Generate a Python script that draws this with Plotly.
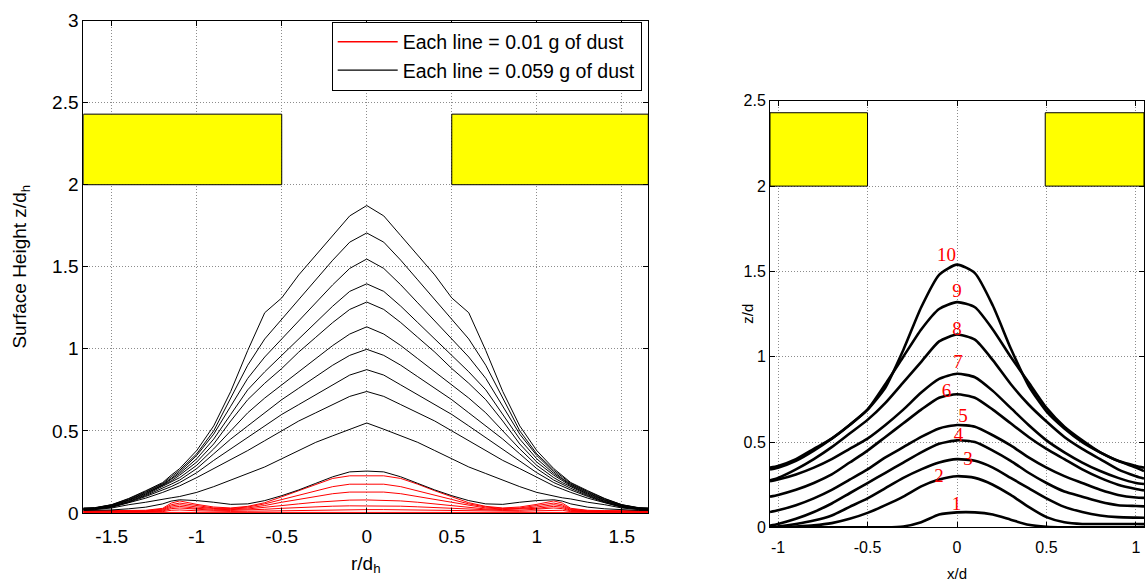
import plotly.graph_objects as go

# ---------------- left panel: radial dust profiles ----------------
# radial positions r/d_h (profiles are axisymmetric, drawn on both sides)
r_half = [0, 0.1, 0.2, 0.3, 0.4, 0.5, 0.6, 0.7, 0.8, 0.9, 1.0, 1.1, 1.15, 1.2, 1.3, 1.4, 1.5, 1.6, 1.667]

# heights z/d_h, one line per 0.059 g of dust
black_1 = [1.873, 1.81, 1.69, 1.57, 1.45, 1.31, 1.22, 0.99, 0.74, 0.53, 0.38, 0.27, 0.23, 0.185, 0.135, 0.088, 0.05, 0.032, 0.03]
black_2 = [1.706, 1.65, 1.54, 1.42, 1.30, 1.18, 1.06, 0.90, 0.70, 0.50, 0.36, 0.26, 0.22, 0.18, 0.13, 0.085, 0.05, 0.03, 0.028]
black_3 = [1.547, 1.49, 1.39, 1.28, 1.17, 1.06, 0.95, 0.82, 0.65, 0.48, 0.35, 0.25, 0.21, 0.175, 0.125, 0.08, 0.048, 0.03, 0.026]
black_4 = [1.396, 1.35, 1.26, 1.16, 1.06, 0.96, 0.86, 0.75, 0.60, 0.45, 0.33, 0.24, 0.205, 0.17, 0.12, 0.078, 0.045, 0.028, 0.025]
black_5 = [1.285, 1.24, 1.16, 1.07, 0.98, 0.88, 0.79, 0.69, 0.56, 0.42, 0.31, 0.23, 0.195, 0.165, 0.115, 0.075, 0.043, 0.027, 0.024]
black_6 = [1.134, 1.09, 1.02, 0.94, 0.86, 0.78, 0.70, 0.61, 0.50, 0.39, 0.29, 0.215, 0.185, 0.16, 0.11, 0.07, 0.04, 0.026, 0.023]
black_7 = [0.997, 0.96, 0.90, 0.83, 0.76, 0.69, 0.61, 0.53, 0.45, 0.36, 0.27, 0.20, 0.175, 0.15, 0.105, 0.068, 0.038, 0.025, 0.022]
black_8 = [0.873, 0.84, 0.78, 0.72, 0.66, 0.60, 0.53, 0.46, 0.39, 0.32, 0.245, 0.185, 0.16, 0.14, 0.10, 0.064, 0.036, 0.024, 0.021]
black_9 = [0.740, 0.71, 0.66, 0.61, 0.56, 0.50, 0.44, 0.38, 0.32, 0.27, 0.215, 0.165, 0.145, 0.125, 0.09, 0.06, 0.034, 0.022, 0.02]
black_10 = [0.548, 0.51, 0.47, 0.43, 0.38, 0.33, 0.28, 0.24, 0.20, 0.16, 0.125, 0.10, 0.092, 0.085, 0.065, 0.05, 0.03, 0.02, 0.018]
black_11 = [0.255, 0.25, 0.22, 0.18, 0.14, 0.105, 0.075, 0.055, 0.052, 0.065, 0.075, 0.08, 0.072, 0.055, 0.035, 0.025, 0.018, 0.015, 0.015]
black_lines = [black_1, black_2, black_3, black_4, black_5, black_6, black_7, black_8, black_9, black_10, black_11]

# heights z/d_h, one line per 0.01 g of dust
red_1 = [0.226, 0.226, 0.21, 0.175, 0.135, 0.098, 0.062, 0.04, 0.03, 0.036, 0.052, 0.073, 0.06, 0.028, 0.016, 0.014, 0.013, 0.012, 0.012]
red_2 = [0.176, 0.175, 0.16, 0.135, 0.108, 0.082, 0.055, 0.036, 0.027, 0.03, 0.045, 0.06, 0.05, 0.024, 0.013, 0.012, 0.011, 0.01, 0.01]
red_3 = [0.128, 0.127, 0.117, 0.10, 0.082, 0.065, 0.045, 0.03, 0.024, 0.027, 0.036, 0.05, 0.042, 0.02, 0.011, 0.01, 0.009, 0.009, 0.009]
red_4 = [0.079, 0.078, 0.073, 0.065, 0.055, 0.045, 0.033, 0.024, 0.02, 0.022, 0.028, 0.04, 0.034, 0.016, 0.009, 0.008, 0.008, 0.007, 0.007]
red_5 = [0.043, 0.043, 0.041, 0.037, 0.033, 0.028, 0.022, 0.017, 0.015, 0.016, 0.021, 0.03, 0.026, 0.012, 0.007, 0.006, 0.006, 0.005, 0.005]
red_6 = [0.02, 0.02, 0.019, 0.018, 0.016, 0.014, 0.012, 0.01, 0.009, 0.01, 0.013, 0.018, 0.016, 0.008, 0.005, 0.004, 0.004, 0.004, 0.004]
red_7 = [0.003, 0.003, 0.003, 0.003, 0.003, 0.003, 0.003, 0.003, 0.003, 0.003, 0.004, 0.006, 0.005, 0.003, 0.003, 0.003, 0.003, 0.003, 0.003]
red_lines = [red_1, red_2, red_3, red_4, red_5, red_6, red_7]

legend_names = ["Each line = 0.01 g of dust", "Each line = 0.059 g of dust"]

# ---------------- right panel: numbered profiles ----------------
x_pos = [-1.045, -1.0, -0.9, -0.8, -0.7, -0.6, -0.5, -0.4, -0.3, -0.2, -0.1, 0.0,
         0.1, 0.2, 0.3, 0.4, 0.5, 0.6, 0.7, 0.8, 0.9, 1.0, 1.045]
prof_10 = [0.35, 0.36, 0.40, 0.46, 0.52, 0.60, 0.69, 0.82, 1.04, 1.29, 1.48, 1.54, 1.49, 1.30, 1.05, 0.83, 0.68, 0.58, 0.50, 0.44, 0.39, 0.36, 0.35]
prof_9 = [0.34, 0.35, 0.39, 0.45, 0.52, 0.60, 0.69, 0.84, 1.00, 1.16, 1.28, 1.32, 1.29, 1.16, 1.00, 0.85, 0.70, 0.59, 0.51, 0.44, 0.39, 0.35, 0.33]
prof_8 = [0.275, 0.29, 0.34, 0.40, 0.47, 0.55, 0.63, 0.73, 0.85, 0.97, 1.09, 1.13, 1.10, 0.98, 0.84, 0.72, 0.62, 0.53, 0.46, 0.40, 0.34, 0.30, 0.286]
prof_7 = [0.27, 0.28, 0.31, 0.35, 0.40, 0.46, 0.52, 0.60, 0.69, 0.79, 0.87, 0.90, 0.88, 0.80, 0.70, 0.60, 0.51, 0.44, 0.38, 0.33, 0.29, 0.26, 0.254]
prof_6 = [0.18, 0.19, 0.22, 0.26, 0.31, 0.38, 0.45, 0.53, 0.61, 0.69, 0.76, 0.78, 0.76, 0.69, 0.61, 0.53, 0.46, 0.40, 0.34, 0.29, 0.25, 0.225, 0.217]
prof_5 = [0.09, 0.10, 0.13, 0.17, 0.22, 0.28, 0.34, 0.41, 0.47, 0.53, 0.58, 0.60, 0.59, 0.54, 0.48, 0.41, 0.35, 0.30, 0.26, 0.22, 0.19, 0.175, 0.173]
prof_4 = [0.01, 0.02, 0.05, 0.09, 0.14, 0.20, 0.26, 0.32, 0.38, 0.44, 0.49, 0.51, 0.50, 0.45, 0.39, 0.32, 0.26, 0.21, 0.18, 0.15, 0.13, 0.125, 0.123]
prof_3 = [0.0, 0.005, 0.02, 0.04, 0.07, 0.12, 0.17, 0.23, 0.29, 0.34, 0.38, 0.40, 0.39, 0.35, 0.29, 0.23, 0.17, 0.12, 0.09, 0.07, 0.06, 0.057, 0.056]
prof_2 = [0.0, 0.0, 0.005, 0.012, 0.025, 0.05, 0.085, 0.13, 0.18, 0.24, 0.28, 0.30, 0.29, 0.25, 0.19, 0.12, 0.06, 0.03, 0.02, 0.02, 0.02, 0.02, 0.019]
prof_1 = [0.0, 0.0, 0.0, 0.0, 0.0, 0.0, 0.0, 0.0, 0.005, 0.03, 0.075, 0.088, 0.088, 0.075, 0.045, 0.015, 0.003, 0.0, 0.0, 0.0, 0.0, 0.0, 0.0]
profiles = [prof_1, prof_2, prof_3, prof_4, prof_5, prof_6, prof_7, prof_8, prof_9, prof_10]

label_text = ["1", "2", "3", "4", "5", "6", "7", "8", "9", "10"]
label_x = [-0.003, -0.10, 0.061, 0.009, 0.033, -0.059, 0.006, 0.0, 0.0, -0.058]
label_z = [0.132, 0.292, 0.396, 0.532, 0.645, 0.791, 0.961, 1.158, 1.375, 1.591]

# obstruction blocks (x range, z range) for each panel
left_blocks = [(-1.667, -0.5), (0.5, 1.656)]
right_blocks = [(-1.045, -0.5), (0.493, 1.045)]
block_z = (2.0, 2.43)

SANS = "Liberation Sans, Arial, sans-serif"
SERIF = "Liberation Serif, Times New Roman, serif"


def mirror(vals):
    return vals[::-1] + vals[1:]


r_full = [-v for v in r_half[::-1]] + r_half[1:]

fig = go.Figure()

for zs in red_lines:
    fig.add_trace(go.Scatter(
        x=r_full, y=mirror(zs), mode="lines", line=dict(color="#ff0000", width=1),
        showlegend=False, hoverinfo="skip", xaxis="x", yaxis="y"))
for zs in black_lines:
    fig.add_trace(go.Scatter(
        x=r_full, y=mirror(zs), mode="lines", line=dict(color="#000000", width=1),
        showlegend=False, hoverinfo="skip", xaxis="x", yaxis="y"))

# legend entries for the two line families
for name, col in zip(legend_names, ["#ff0000", "#000000"]):
    fig.add_trace(go.Scatter(
        x=[None], y=[None], mode="lines", line=dict(color=col, width=1.3),
        name=name, showlegend=True, xaxis="x", yaxis="y"))

for zs in profiles:
    fig.add_trace(go.Scatter(
        x=x_pos, y=zs, mode="lines", line=dict(color="#000000", width=2.6, shape="spline", smoothing=0.6),
        showlegend=False, hoverinfo="skip", xaxis="x2", yaxis="y2"))

fig.add_trace(go.Scatter(
    x=label_x, y=label_z, mode="text", text=label_text,
    textfont=dict(family=SERIF, size=19, color="#ff0000"),
    showlegend=False, xaxis="x2", yaxis="y2"))

shapes = []
for x0, x1 in left_blocks:
    shapes.append(dict(type="rect", xref="x", yref="y", x0=x0, x1=x1, y0=block_z[0], y1=block_z[1],
                       fillcolor="#ffff00", line=dict(color="#000000", width=1), layer="between"))
for x0, x1 in right_blocks:
    shapes.append(dict(type="rect", xref="x2", yref="y2", x0=x0, x1=x1, y0=block_z[0], y1=block_z[1],
                       fillcolor="#ffff00", line=dict(color="#000000", width=1), layer="between"))

W, H = 1146, 583
axis_common = dict(
    showline=True, linecolor="#000000", linewidth=1, mirror="allticks",
    ticks="inside", ticklen=5, tickcolor="#000000",
    showgrid=True, gridcolor="#8c8c8c", gridwidth=1, griddash="1px,2px",
    zeroline=False, color="#000000",
)

fig.update_layout(
    width=W, height=H,
    margin=dict(l=0, r=0, t=0, b=0),
    paper_bgcolor="#ffffff", plot_bgcolor="#ffffff",
    font=dict(family=SANS, color="#000000"),
    shapes=shapes,
    annotations=[dict(text="z/d", xref="paper", yref="paper", x=748 / W, y=(H - 315) / H,
                      showarrow=False, textangle=-90, font=dict(family=SANS, size=15, color="#000000"))],
    xaxis=dict(axis_common, domain=[83.3 / W, 648.3 / W], range=[-1.667, 1.656],
               tickvals=[-1.5, -1, -0.5, 0, 0.5, 1, 1.5], ticktext=["-1.5", "-1", "-0.5", "0", "0.5", "1", "1.5"],
               tickfont=dict(size=19), ticklabelstandoff=6, anchor="y",
               title=dict(text="r/d<sub>h</sub>", font=dict(size=19), standoff=10)),
    yaxis=dict(axis_common, domain=[(H - 521.7) / H, (H - 11) / H], range=[0, 3],
               tickvals=[0, 0.5, 1, 1.5, 2, 2.5, 3], ticktext=["0", "0.5", "1", "1.5", "2", "2.5", "3"],
               tickfont=dict(size=19), anchor="x",
               title=dict(text="Surface Height z/d<sub>h</sub>", font=dict(size=19), standoff=20)),
    xaxis2=dict(axis_common, domain=[770 / W, 1144 / W], range=[-1.045, 1.045],
                tickvals=[-1, -0.5, 0, 0.5, 1], ticktext=["-1", "-0.5", "0", "0.5", "1"],
                tickfont=dict(size=16), ticklabelstandoff=5, anchor="y2",
                title=dict(text="x/d", font=dict(size=15), standoff=13)),
    yaxis2=dict(axis_common, domain=[(H - 536.7) / H, (H - 94.2) / H], range=[0, 2.5],
                tickvals=[0, 0.5, 1, 1.5, 2, 2.5], ticktext=["0", "0.5", "1", "1.5", "2", "2.5"],
                tickfont=dict(size=16), anchor="x2"),
    legend=dict(x=641.7 / W, xanchor="right", y=(H - 12) / H, yanchor="top",
                bgcolor="#ffffff", bordercolor="#000000", borderwidth=1,
                font=dict(family=SANS, size=19.5, color="#000000"),
                tracegroupgap=0, itemwidth=60),
)

fig.write_html("out.html")
